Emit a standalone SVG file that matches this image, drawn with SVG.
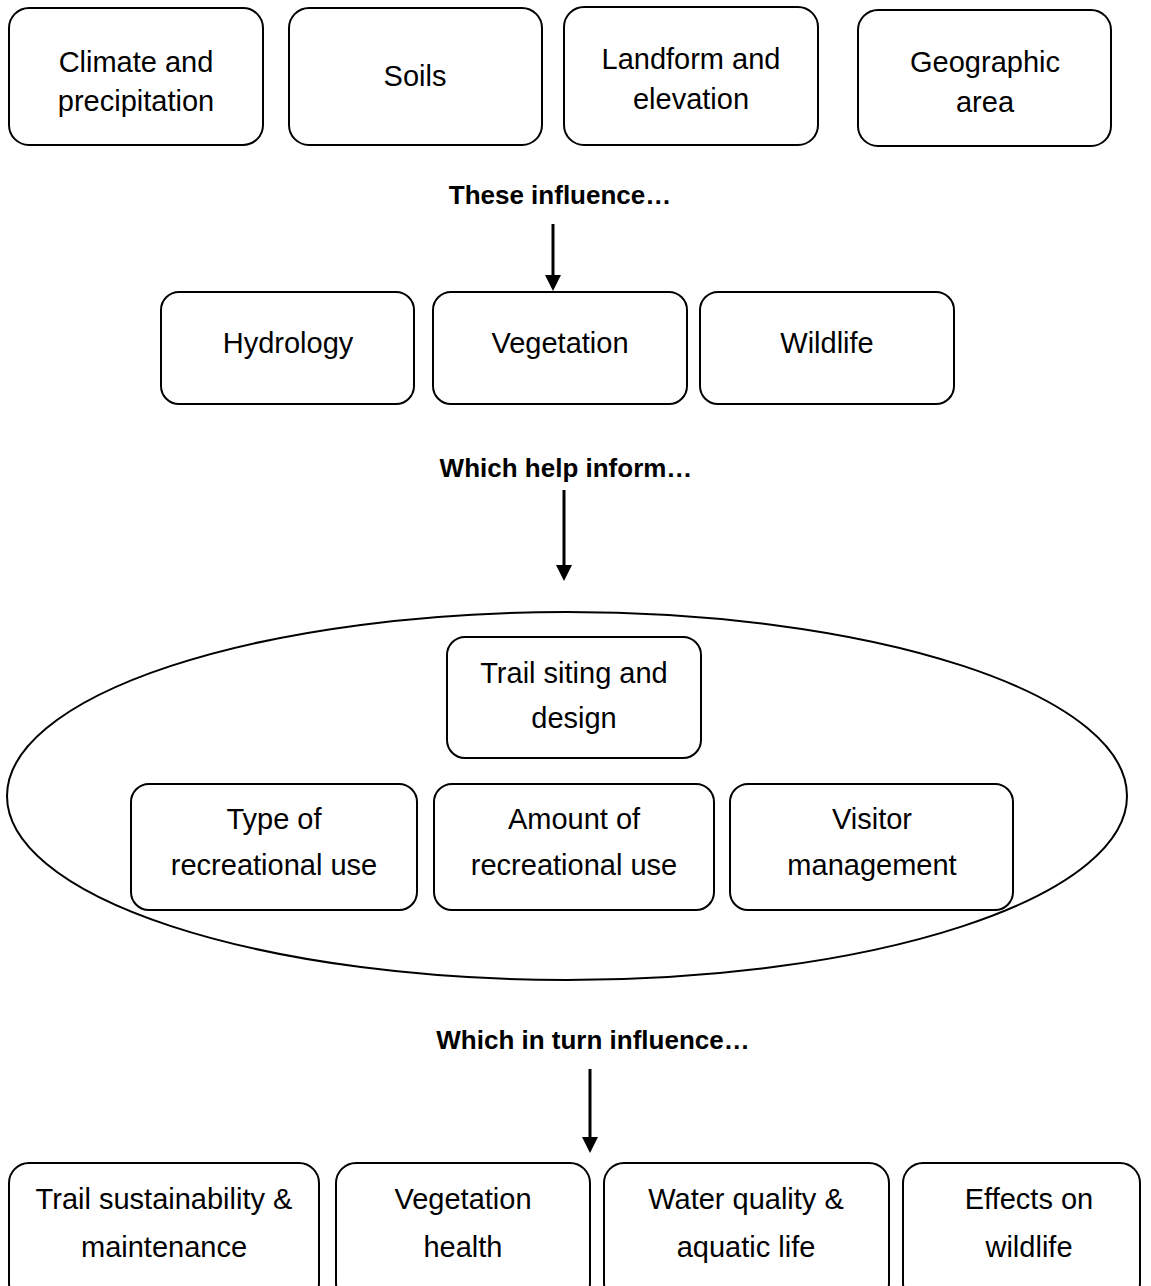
<svg xmlns="http://www.w3.org/2000/svg" width="1151" height="1286" viewBox="0 0 1151 1286">
<defs>
<style>
.box{fill:#fff;stroke:#000;stroke-width:2}
.t{font-family:"Liberation Sans",Arial,sans-serif;font-size:29px;fill:#000;text-anchor:middle}
.b{font-family:"Liberation Sans",Arial,sans-serif;font-size:26px;font-weight:bold;fill:#000;text-anchor:middle}
.c{stroke:#000;stroke-width:3;fill:none}
</style>
</defs>
<rect width="1151" height="1286" fill="#fff"/>
<g id="n-climate"><rect class="box" x="9" y="8" width="254" height="137" rx="20"/><text class="t" x="136" y="72">Climate and</text><text class="t" x="136" y="111">precipitation</text></g>
<g id="n-soils"><rect class="box" x="289" y="8" width="253" height="137" rx="20"/><text class="t" x="415" y="86">Soils</text></g>
<g id="n-landform"><rect class="box" x="564" y="7" width="254" height="138" rx="20"/><text class="t" x="691" y="69">Landform and</text><text class="t" x="691" y="109">elevation</text></g>
<g id="n-geo"><rect class="box" x="858" y="10" width="253" height="136" rx="20"/><text class="t" x="985" y="72">Geographic</text><text class="t" x="985" y="112">area</text></g>
<g id="l1"><text class="b" x="560" y="204">These influence…</text></g>
<g id="n-hydro"><rect class="box" x="161" y="292" width="253" height="112" rx="18"/><text class="t" x="288" y="353">Hydrology</text></g>
<g id="n-veg"><rect class="box" x="433" y="292" width="254" height="112" rx="18"/><text class="t" x="560" y="353">Vegetation</text></g>
<g id="n-wild"><rect class="box" x="700" y="292" width="254" height="112" rx="18"/><text class="t" x="827" y="353">Wildlife</text></g>
<g id="l2"><text class="b" x="566" y="477">Which help inform…</text></g>
<g id="n-ellipse"><ellipse cx="567" cy="796" rx="560" ry="184" fill="#fff" stroke="#000" stroke-width="2"/></g>
<g id="n-siting"><rect class="box" x="447" y="637" width="254" height="121" rx="18"/><text class="t" x="574" y="683">Trail siting and</text><text class="t" x="574" y="728">design</text></g>
<g id="n-type"><rect class="box" x="131" y="784" width="286" height="126" rx="18"/><text class="t" x="274" y="829">Type of</text><text class="t" x="274" y="875">recreational use</text></g>
<g id="n-amount"><rect class="box" x="434" y="784" width="280" height="126" rx="18"/><text class="t" x="574" y="829">Amount of</text><text class="t" x="574" y="875">recreational use</text></g>
<g id="n-visitor"><rect class="box" x="730" y="784" width="283" height="126" rx="18"/><text class="t" x="872" y="829">Visitor</text><text class="t" x="872" y="875">management</text></g>
<g id="l3"><text class="b" x="593" y="1049">Which in turn influence…</text></g>
<g id="n-sust"><rect class="box" x="9" y="1163" width="310" height="140" rx="20"/><text class="t" x="164" y="1209">Trail sustainability &amp;</text><text class="t" x="164" y="1257">maintenance</text></g>
<g id="n-veghealth"><rect class="box" x="336" y="1163" width="254" height="140" rx="20"/><text class="t" x="463" y="1209">Vegetation</text><text class="t" x="463" y="1257">health</text></g>
<g id="n-water"><rect class="box" x="604" y="1163" width="285" height="140" rx="20"/><text class="t" x="746" y="1209">Water quality &amp;</text><text class="t" x="746" y="1257">aquatic life</text></g>
<g id="n-effects"><rect class="box" x="903" y="1163" width="237" height="140" rx="20"/><text class="t" x="1029" y="1209">Effects on</text><text class="t" x="1029" y="1257">wildlife</text></g>
<g id="connectors">
<line class="c" x1="553" y1="224" x2="553" y2="276"/><path d="M545,275 L561,275 L553,291 z" fill="#000"/>
<line class="c" x1="564" y1="490" x2="564" y2="566"/><path d="M556,565 L572,565 L564,581 z" fill="#000"/>
<line class="c" x1="590" y1="1069" x2="590" y2="1138"/><path d="M582,1137 L598,1137 L590,1153 z" fill="#000"/>
</g>
</svg>
